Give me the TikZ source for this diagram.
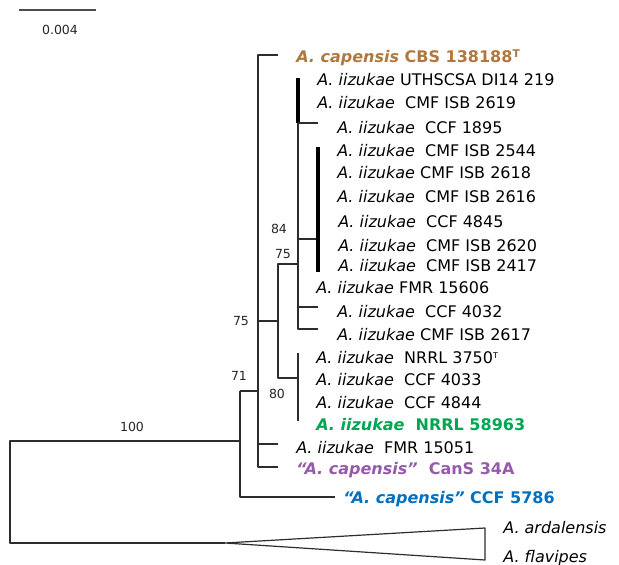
\documentclass[tikz,border=0pt]{standalone}
\usepackage{fontspec}
\setmainfont{DejaVu Sans}
\definecolor{cbrown}{RGB}{176,120,62}
\definecolor{cgreen}{RGB}{0,166,81}
\definecolor{cpurple}{RGB}{150,90,170}
\definecolor{cblue}{RGB}{0,112,192}
\definecolor{tline}{RGB}{45,45,45}
\newcommand\Aiz{\textit{A. iizukae}}
\newcommand\labfont{\fontsize{12}{14}\selectfont}
\begin{document}
\begin{tikzpicture}[x=0.75pt,y=-0.75pt,
  br/.style={line width=0.9pt, draw=tline, line join=round},
  tbar/.style={line width=2.8pt, draw=black},
  lab/.style={anchor=west, inner sep=0pt, text height=8.75pt, text depth=0pt, font=\labfont},
  blab/.style={lab, font=\labfont\bfseries},
  bs/.style={inner sep=0pt, font=\fontsize{9.4}{11}\selectfont, text=black!85}]
\useasboundingbox (0,0) rectangle (619,565);

% scale bar
\coordinate (sbl) at (19,10);
\coordinate (sbr) at (96,10);
\draw[line width=1.1pt, draw=black!70] (sbl) -- (sbr);
\node[bs] (sblab) at (60,30) {0.004};

% internal node coordinates
\coordinate (rt) at (10,441);
\coordinate (rb) at (10,543);
\coordinate (apex) at (225,543);
\coordinate (tt) at (485,528);
\coordinate (tb) at (485,560);
\coordinate (a1) at (240,391);
\coordinate (a2) at (240,441);
\coordinate (a3) at (240,497);
\coordinate (b1) at (258,55);
\coordinate (b2) at (258,391);
\coordinate (b3) at (258,321);
\coordinate (b4) at (258,444);
\coordinate (b5) at (258,467);
\coordinate (c1) at (278,264);
\coordinate (c2) at (278,321);
\coordinate (c3) at (278,378);
\coordinate (d1) at (298,78);
\coordinate (d2) at (298,123);
\coordinate (d3) at (298,239);
\coordinate (d4) at (298,264);
\coordinate (d5) at (298,307);
\coordinate (d6) at (298,329);
\coordinate (e1) at (298,353);
\coordinate (e2) at (298,378);
\coordinate (e3) at (298,421);
\coordinate (f1) at (318,147);
\coordinate (f2) at (318,239);
\coordinate (f3) at (318,272);
% branch ends
\coordinate (t1) at (278,55);
\coordinate (t2) at (318,123);
\coordinate (t3) at (318,307);
\coordinate (t4) at (318,329);
\coordinate (t5) at (278,444);
\coordinate (t6) at (278,467);
\coordinate (t7) at (335,497);

% tree
\draw[br] (a2) -- (rt) -- (rb) -- (apex);
\draw[br] (apex) -- (tt) -- (tb) -- cycle;
\draw[br] (a1) -- (a3) -- (t7);
\draw[br] (a1) -- (b2);
\draw[br] (t1) -- (b1) -- (b5) -- (t6);
\draw[br] (b3) -- (c2);
\draw[br] (b4) -- (t5);
\draw[br] (d4) -- (c1) -- (c3) -- (e2);
\draw[br] (e1) -- (e3);
\draw[tbar] (d1) -- (d2);
\draw[br] (d2) -- (d6) -- (t4);
\draw[br] (d2) -- (t2);
\draw[br] (d3) -- (f2);
\draw[br] (d5) -- (t3);
\draw[tbar] (f1) -- (f3);

% bootstrap values
\node[bs] (bs100) at (132,427) {100};
\node[bs] (bs71) at (239,376) {71};
\node[bs] (bs75a) at (241,321) {75};
\node[bs] (bs84) at (279,229) {84};
\node[bs] (bs75b) at (283,254) {75};
\node[bs] (bs80) at (277,394) {80};

% leaf labels
\node[blab, text=cbrown] (l1) at (296,57) {\textit{A. capensis} CBS 138188\textsuperscript{T}};
\node[lab] (l2) at (317,80) {\Aiz{} UTHSCSA DI14 219};
\node[lab] (l3) at (317,103) {\Aiz{}~ CMF ISB 2619};
\node[lab] (l4) at (337,128) {\Aiz{}~ CCF 1895};
\node[lab] (l5) at (337,151) {\Aiz{}~ CMF ISB 2544};
\node[lab] (l6) at (337,173) {\Aiz{} CMF ISB 2618};
\node[lab] (l7) at (337,197) {\Aiz{}~ CMF ISB 2616};
\node[lab] (l8) at (338,222) {\Aiz{}~ CCF 4845};
\node[lab] (l9) at (338,246) {\Aiz{}~ CMF ISB 2620};
\node[lab] (l10) at (338,266) {\Aiz{}~ CMF ISB 2417};
\node[lab] (l11) at (316,288) {\Aiz{} FMR 15606};
\node[lab] (l12) at (337,312) {\Aiz{}~ CCF 4032};
\node[lab] (l13) at (337,335) {\Aiz{} CMF ISB 2617};
\node[lab] (l14) at (316,358) {\Aiz{}~ NRRL 3750\textsuperscript{\fontsize{6}{6}\selectfont T}};
\node[lab] (l15) at (316,380) {\Aiz{}~ CCF 4033};
\node[lab] (l16) at (316,403) {\Aiz{}~ CCF 4844};
\node[blab, text=cgreen] (l17) at (316,425) {\Aiz{}~ NRRL 58963};
\node[lab] (l18) at (296,448) {\Aiz{}~ FMR 15051};
\node[blab, text=cpurple] (l19) at (296,469) {\textit{“A. capensis”}~ CanS 34A};
\node[blab, text=cblue] (l20) at (343,498) {\textit{“A. capensis”} CCF 5786};
\node[lab] (l21) at (503,528) {\textit{A. ardalensis}};
\node[lab] (l22) at (503,557) {\textit{A. flavipes}};
\end{tikzpicture}
\end{document}
